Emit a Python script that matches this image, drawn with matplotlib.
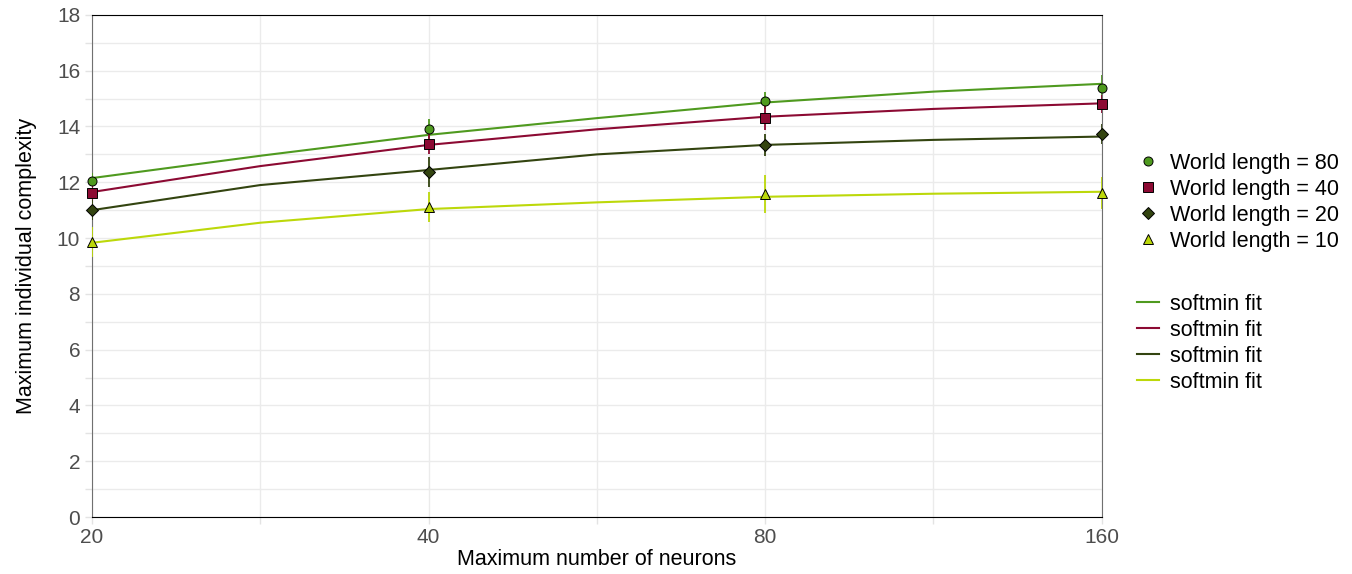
import numpy as np
import matplotlib.pyplot as plt
from matplotlib.ticker import FixedLocator, NullFormatter

plt.rcParams['font.family'] = ['Liberation Sans', 'DejaVu Sans']

# =========================================
# DATA
# =========================================
neurons = [20, 40, 80, 160]

wl80 = [12.05, 13.91, 14.92, 15.38]
wl40 = [11.62, 13.37, 14.31, 14.81]
wl20 = [11.00, 12.37, 13.34, 13.73]
wl10 = [9.86, 11.11, 11.58, 11.62]

err80 = [0.30, 0.35, 0.30, 0.47]
err40 = [0.30, 0.35, 0.43, 0.33]
err20 = [0.35, 0.55, 0.40, 0.37]
err10 = [0.54, 0.55, 0.68, 0.57]

# softmin fit curves
fit_x = [20, 28.28, 40, 56.57, 80, 113.1, 160]
fit80 = [12.15, 12.95, 13.70, 14.30, 14.86, 15.25, 15.53]
fit40 = [11.65, 12.58, 13.34, 13.90, 14.35, 14.63, 14.83]
fit20 = [11.00, 11.90, 12.44, 13.00, 13.34, 13.52, 13.64]
fit10 = [9.83, 10.55, 11.04, 11.28, 11.48, 11.59, 11.66]

labels = ['World length = 80', 'World length = 40', 'World length = 20', 'World length = 10']
colors = ['#4f9a1f', '#8c0a33', '#334410', '#bcd80a']
markers = ['o', 's', 'D', '^']
msizes = [6.5, 6.5, 6, 7.5]

FS = 15.5

# =========================================
# PLOT
# =========================================
fig = plt.figure(figsize=(13.52, 5.74), dpi=100)
ax = fig.add_axes([0.068, 0.0993, 0.747, 0.8747])

ax.set_xscale('log')
ax.set_xlim(20, 160)
ax.set_ylim(0, 18)

series = [wl80, wl40, wl20, wl10]
errs = [err80, err40, err20, err10]
fits = [fit80, fit40, fit20, fit10]

line_handles = []
for fit, c in zip(fits, colors):
    h, = ax.plot(fit_x, fit, color=c, linewidth=1.5, zorder=3, label='softmin fit')
    line_handles.append(h)

mark_handles = []
for y, e, c, m, ms, lab in zip(series, errs, colors, markers, msizes, labels):
    ax.errorbar(neurons, y, yerr=e, fmt='none', ecolor=c, elinewidth=1.3, capsize=0, zorder=4)
    h, = ax.plot(neurons, y, linestyle='none', marker=m, markersize=ms, markerfacecolor=c,
                 markeredgecolor='black', markeredgewidth=0.7, zorder=5, label=lab, clip_on=False)
    mark_handles.append(h)

# ticks & grid
ax.xaxis.set_major_locator(FixedLocator(neurons))
ax.xaxis.set_minor_locator(FixedLocator([28.28, 56.57, 113.1]))
ax.set_xticklabels([str(n) for n in neurons])
ax.xaxis.set_minor_formatter(NullFormatter())
ax.set_yticks(np.arange(0, 19, 2))
ax.set_yticks(np.arange(1, 18, 2), minor=True)

ax.grid(True, which='both', color='#ebebeb', linewidth=1.0, zorder=0)
ax.set_axisbelow(True)
ax.tick_params(axis='both', which='both', length=5, width=1.0, color='#e3e3e3',
               labelsize=15, labelcolor='#4d4d4d')
ax.tick_params(axis='x', pad=3)

for s in ['left', 'right']:
    ax.spines[s].set_color('#707070')
for s in ['top', 'bottom']:
    ax.spines[s].set_color('black')

ax.set_xlabel('Maximum number of neurons', fontsize=FS, labelpad=1)
ax.set_ylabel('Maximum individual complexity', fontsize=FS, labelpad=14)

# legends
leg1 = fig.legend(handles=mark_handles, loc='upper left', bbox_to_anchor=(1137 / 1352, 1 - 153 / 574),
                  frameon=False, fontsize=FS, handlelength=1.0, handletextpad=0.53,
                  labelspacing=0.23, borderpad=0, borderaxespad=0)
leg2 = fig.legend(handles=line_handles, loc='upper left', bbox_to_anchor=(1137 / 1352, 1 - 294 / 574),
                  frameon=False, fontsize=FS, handlelength=1.0, handletextpad=0.53,
                  labelspacing=0.23, borderpad=0, borderaxespad=0)

fig.savefig('out.png', dpi=100)
